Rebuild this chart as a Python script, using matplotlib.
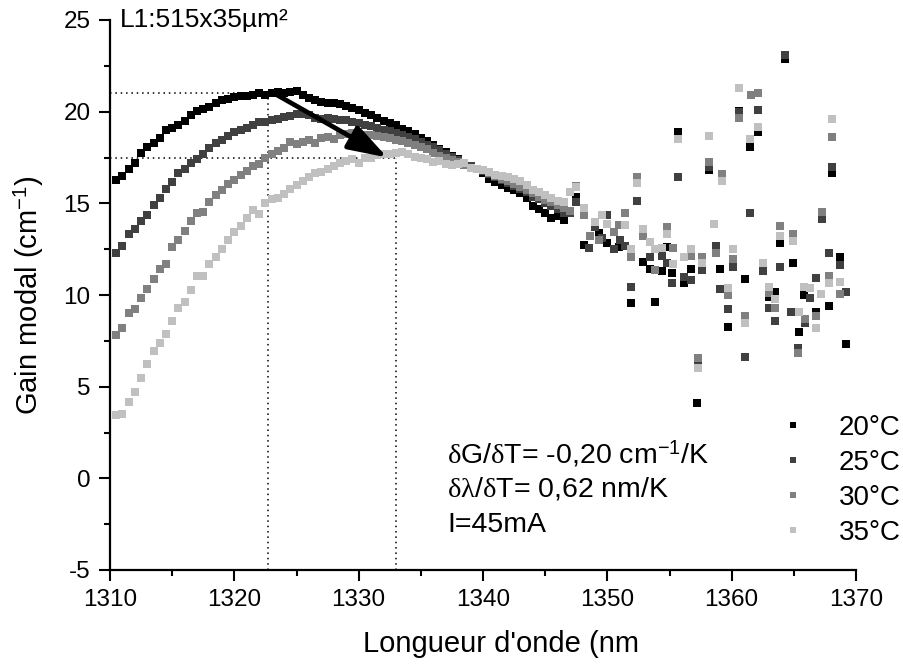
import numpy as np
import matplotlib
matplotlib.use('Agg')
import matplotlib.pyplot as plt
from matplotlib.ticker import MultipleLocator

plt.rcParams['font.family'] = ['Liberation Sans', 'DejaVu Sans']
plt.rcParams['mathtext.fontset'] = 'custom'
plt.rcParams['mathtext.rm'] = 'Liberation Sans'
plt.rcParams['mathtext.it'] = 'Liberation Serif'
plt.rcParams['axes.unicode_minus'] = False

# smooth part of the spectra, common wavelength grid (nm)
wl = np.arange(1310.5, 1348.0, 0.5)

g20 = [16.25, 16.5, 16.9, 17.2, 17.75, 18.05, 18.3, 18.55, 19.0, 19.1,
       19.3, 19.5, 19.8, 20.05, 20.12, 20.25, 20.48, 20.63, 20.68, 20.78,
       20.83, 20.88, 20.93, 21.0, 20.92, 21.0, 21.05, 21.0, 21.1, 21.15,
       20.9, 20.75, 20.65, 20.55, 20.5, 20.45, 20.4, 20.3, 20.2, 20.1,
       19.95, 19.8, 19.65, 19.5, 19.4, 19.27, 19.05, 18.95, 18.8, 18.55,
       18.4, 18.2, 17.95, 17.8, 17.6, 17.4, 17.2, 17.0, 16.85, 16.64,
       16.35, 16.18, 16.0, 15.85, 15.73, 15.55, 15.3, 14.85, 14.7, 14.5,
       14.2, 14.3, 14.1, 14.45, 15.36]
g25 = [12.3, 12.7, 13.35, 13.6, 14.05, 14.35, 14.9, 15.3, 15.8, 16.18,
       16.65, 16.9, 17.2, 17.4, 17.68, 18.0, 18.3, 18.48, 18.67, 18.88,
       19.0, 19.1, 19.25, 19.42, 19.45, 19.55, 19.6, 19.7, 19.78, 19.85,
       19.88, 19.8, 19.68, 19.6, 19.64, 19.6, 19.55, 19.52, 19.45, 19.4,
       19.3, 19.2, 19.1, 19.0, 18.92, 18.85, 18.72, 18.6, 18.5, 18.35,
       18.2, 18.05, 17.9, 17.7, 17.55, 17.35, 17.2, 17.05, 16.9, 16.75,
       16.6, 16.45, 16.3, 16.1, 15.95, 15.8, 15.6, 15.35, 15.25, 15.0,
       14.85, 14.7, 14.5, 14.45, 15.09]
g30 = [7.8, 8.2, 9.0, 9.25, 9.85, 10.35, 10.9, 11.4, 11.7, 12.6,
       13.0, 13.5, 14.05, 14.45, 14.55, 15.1, 15.45, 15.72, 16.05, 16.3,
       16.54, 16.78, 17.04, 17.16, 17.45, 17.7, 17.88, 18.0, 18.36, 18.24,
       18.36, 18.45, 18.3, 18.55, 18.64, 18.5, 18.73, 18.8, 18.85, 18.8,
       18.75, 18.72, 18.65, 18.6, 18.55, 18.45, 18.4, 18.3, 18.2, 18.05,
       17.95, 17.75, 17.6, 17.5, 17.35, 17.25, 17.1, 16.95, 16.9, 16.8,
       16.65, 16.5, 16.35, 16.2, 16.05, 15.9, 15.75, 15.55, 15.35, 15.2,
       15.05, 14.9, 14.75, 14.6, 15.94]
g35 = [3.45, 3.5, 4.18, 4.7, 5.5, 6.25, 6.95, 7.4, 7.9, 8.6,
       9.3, 9.6, 10.27, 11.03, 11.05, 11.7, 12.1, 12.5, 13.0, 13.45,
       13.76, 14.21, 14.63, 14.4, 15.03, 15.22, 15.3, 15.5, 15.8, 16.0,
       16.2, 16.45, 16.64, 16.73, 16.88, 17.04, 17.18, 17.3, 17.4, 17.2,
       17.45, 17.5, 17.62, 17.68, 17.7, 17.75, 17.82, 17.7, 17.54, 17.5,
       17.42, 17.27, 17.3, 17.15, 17.09, 17.15, 17.18, 16.95, 16.9, 16.8,
       16.7, 16.55, 16.5, 16.45, 16.35, 16.2, 16.0, 15.75, 15.6, 15.45,
       15.3, 15.15, 15.05, 15.6, 15.9]

# noisy tail (> 1348 nm)
n20_x = [1348.1, 1349.3, 1349.95, 1350.9, 1351.9, 1352.9, 1353.4, 1353.8, 1354.4, 1354.8,
         1355.2, 1355.7, 1356.2, 1356.7, 1357.2, 1358.2, 1359.1, 1359.7, 1360.6, 1361.1,
         1361.5, 1362.1, 1363.0, 1363.5, 1363.9, 1364.3, 1364.9, 1365.4, 1365.8, 1366.8,
         1367.8, 1368.1, 1368.7, 1369.2]
n20_y = [12.73, 13.4, 12.85, 12.64, 9.58, 11.82, 11.42, 9.63, 11.31, 12.64,
         11.22, 18.9, 10.67, 11.4, 4.09, 16.82, 11.4, 8.27, 20.05, 10.85,
         18.05, 18.9, 9.87, 10.14, 12.85, 22.9, 11.76, 8.0, 10.0, 9.09,
         9.4, 16.64, 12.05, 7.33]
n25_x = [1348.5, 1349.0, 1349.55, 1350.0, 1350.5, 1351.0, 1351.4, 1351.9, 1352.4, 1353.4,
         1354.4, 1354.8, 1355.2, 1355.7, 1356.2, 1356.7, 1357.3, 1357.65, 1358.2, 1358.7,
         1359.1, 1359.7, 1360.1, 1360.6, 1361.1, 1361.5, 1362.1, 1362.5, 1363.0, 1363.5,
         1363.9, 1364.3, 1364.8, 1365.3, 1365.9, 1366.3, 1366.8, 1367.3, 1367.8, 1368.1,
         1368.7, 1369.2]
n25_y = [12.54, 13.72, 13.09, 14.36, 12.49, 13.0, 12.67, 10.42, 15.13, 12.09,
         12.13, 11.76, 10.67, 16.45, 11.0, 10.82, 6.23, 11.36, 17.0, 12.69,
         10.31, 9.22, 11.54, 20.0, 6.6, 14.45, 20.09, 11.32, 9.31, 8.6,
         11.54, 23.1, 9.05, 7.09, 8.49, 9.82, 10.91, 14.13, 12.31, 16.96,
         11.63, 10.18]
n30_x = [1348.1, 1348.6, 1349.3, 1350.5, 1350.9, 1351.4, 1351.9, 1352.4, 1352.9, 1353.8,
         1354.8, 1355.3, 1356.7, 1357.3, 1357.65, 1358.2, 1358.7, 1359.2, 1359.7, 1360.1,
         1360.6, 1361.1, 1361.55, 1362.1, 1363.0, 1363.5, 1363.9, 1364.9, 1365.3, 1365.9,
         1366.8, 1367.3, 1367.8, 1368.1, 1368.7]
n30_y = [14.36, 13.2, 13.0, 13.45, 13.82, 14.45, 12.09, 16.45, 13.22, 11.36,
         13.72, 12.54, 12.13, 6.54, 12.09, 17.27, 12.27, 16.6, 10.0, 11.95,
         19.64, 8.85, 20.9, 21.0, 10.09, 9.27, 13.78, 13.33, 6.82, 8.67,
         8.85, 14.51, 11.03, 18.6, 10.05]
n35_x = [1348.1, 1349.0, 1349.55, 1350.0, 1351.4, 1351.9, 1352.4, 1352.9, 1353.4, 1353.8,
         1354.4, 1354.8, 1355.3, 1355.7, 1356.2, 1356.7, 1357.3, 1357.65, 1358.2, 1358.6,
         1359.2, 1359.7, 1360.1, 1360.6, 1361.1, 1361.5, 1362.1, 1362.5, 1363.0, 1363.5,
         1363.9, 1364.9, 1365.4, 1365.8, 1366.3, 1366.8, 1367.2, 1367.8, 1368.1, 1368.7]
n35_y = [14.73, 14.0, 14.36, 13.9, 13.82, 12.5, 16.09, 13.58, 12.9, 12.5,
         12.55, 13.33, 11.69, 18.49, 12.09, 12.49, 6.0, 11.76, 18.67, 13.87,
         16.24, 10.36, 12.49, 21.27, 8.49, 18.49, 19.18, 11.73, 10.45, 9.76,
         13.22, 12.96, 9.05, 10.42, 10.36, 8.18, 10.05, 10.67, 19.6, 10.72]

labels = ['20°C', '25°C', '30°C', '35°C']
colors = ['#000000', '#404040', '#808080', '#c0c0c0']

# peak positions at 20°C and 35°C (dotted guides + arrow)
peak_wl = [1322.7, 1333.0]
peak_gain = [21.0, 17.5]

fig = plt.figure(figsize=(9.04, 6.68), dpi=100)
ax = fig.add_axes([110/904, 1-570/668, 746/904, 550/668])

smooth = [g20, g25, g30, g35]
tails = [(n20_x, n20_y), (n25_x, n25_y), (n30_x, n30_y), (n35_x, n35_y)]
for g, (tx, ty), lab, c in zip(smooth, tails, labels, colors):
    xx = np.concatenate([wl, tx])
    yy = np.concatenate([g, ty])
    ax.plot(xx, yy, ls='none', marker='s', ms=5.3, mew=0, color=c, label=lab)

dot = (0, (1, 2.5))
for pw, pg in zip(peak_wl, peak_gain):
    ax.plot([1310, pw], [pg, pg], color='k', lw=1.1, ls=dot, zorder=1)
    ax.plot([pw, pw], [-5, pg], color='k', lw=1.1, ls=dot, zorder=1)

ax.annotate('', xy=(peak_wl[1] - 0.7, peak_gain[1]), xytext=(peak_wl[0] + 0.5, peak_gain[0]),
            arrowprops=dict(arrowstyle='-|>,head_length=0.85,head_width=0.28', lw=3.4,
                            color='k', shrinkA=0, shrinkB=0, mutation_scale=28),
            zorder=5)

ax.set_xlim(1310, 1370)
ax.set_ylim(-5, 25)
ax.spines['top'].set_visible(False)
ax.spines['right'].set_visible(False)
for s in ['left', 'bottom']:
    ax.spines[s].set_linewidth(1.6)
ax.xaxis.set_major_locator(MultipleLocator(10))
ax.xaxis.set_minor_locator(MultipleLocator(5))
ax.yaxis.set_major_locator(MultipleLocator(5))
ax.yaxis.set_minor_locator(MultipleLocator(2.5))
ax.tick_params(which='major', direction='out', length=8, width=1.5, labelsize=17.5, pad=6)
ax.tick_params(which='minor', direction='out', length=4.5, width=1.5)

ax.set_xlabel("Longueur d'onde (nm", fontsize=21)
ax.xaxis.set_label_coords((501 - 110) / 746, -60 / 550)
ax.set_ylabel('Gain modal (cm$^{-1}$)', fontsize=21)
ax.yaxis.set_label_coords(-64 / 746, 0.5)

ax.text(1310.8, 25.0, 'L1:515x35µm²', fontsize=19, va='center', ha='left', clip_on=False)
ax.text(1337.1, 1.35, r'$\delta$G/$\delta$T= -0,20 cm$^{-1}$/K', fontsize=20.5, va='center')
ax.text(1337.1, -0.6, r'$\delta\lambda$/$\delta$T= 0,62 nm/K', fontsize=20.5, va='center')
ax.text(1337.1, -2.55, 'I=45mA', fontsize=20.5, va='center')

ax.legend(loc='upper left', bbox_to_anchor=(779/904, 1-415/668), bbox_transform=fig.transFigure,
          frameon=False, fontsize=20, markerscale=0.8, handlelength=1.0,
          handletextpad=1.15, labelspacing=0.32, borderpad=0, borderaxespad=0)

fig.savefig('out.png', dpi=100)
